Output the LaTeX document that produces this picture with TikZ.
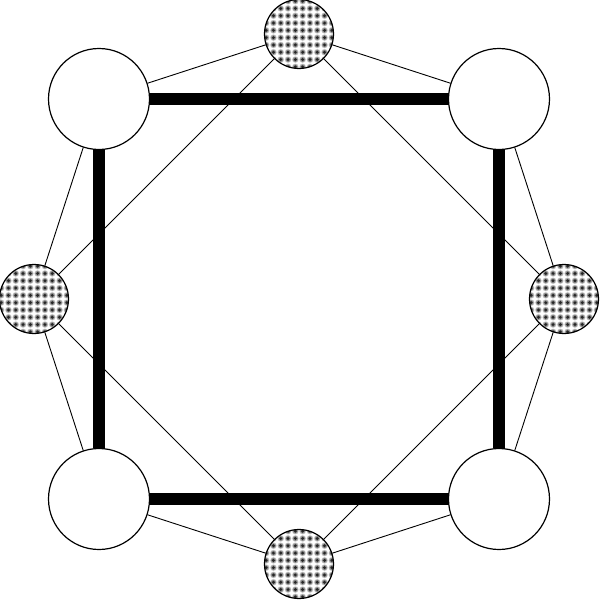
\documentclass[tikz,border=0pt]{standalone}
\begin{document}
\begin{tikzpicture}[x=1pt,y=-1pt,
  big/.style={circle,draw=black,line width=1.2pt,fill=white,minimum size=101pt,inner sep=0pt},
  dotted circ/.style={circle,draw=black,line width=1.2pt,fill=white,minimum size=69pt,inner sep=0pt,
    path picture={
      \begin{scope}[shift={(path picture bounding box.center)}]
      \foreach \i in {-5,...,4}{\foreach \j in {-5,...,4}{
        \fill[black!20] (\i*7.3+3.65,\j*7.3+3.65) circle (3.3pt);
        \fill[black!45] (\i*7.3+3.65,\j*7.3+3.65) circle (2.5pt);
        \fill[black!85] (\i*7.3+3.65,\j*7.3+3.65) circle (1.6pt);
      }}
      \end{scope}
    }},
  thin/.style={line width=0.9pt},
  heavy/.style={line width=11.5pt}
]
\useasboundingbox (0,0) rectangle (600,600);
\node[big] (tl) at (99,99) {};
\node[big] (tr) at (499,99) {};
\node[big] (bl) at (99,499) {};
\node[big] (br) at (499,499) {};
\node[dotted circ] (t) at (299,34) {};
\node[dotted circ] (r) at (564,299) {};
\node[dotted circ] (b) at (299,564) {};
\node[dotted circ] (l) at (34,299) {};
\draw[heavy] (tl) -- (tr);
\draw[heavy] (tr) -- (br);
\draw[heavy] (br) -- (bl);
\draw[heavy] (bl) -- (tl);
\draw[thin] (t) -- (tl);
\draw[thin] (t) -- (tr);
\draw[thin] (r) -- (tr);
\draw[thin] (r) -- (br);
\draw[thin] (b) -- (br);
\draw[thin] (b) -- (bl);
\draw[thin] (l) -- (bl);
\draw[thin] (l) -- (tl);
\draw[thin] (t) -- (l);
\draw[thin] (l) -- (b);
\draw[thin] (b) -- (r);
\draw[thin] (r) -- (t);
\end{tikzpicture}
\end{document}
